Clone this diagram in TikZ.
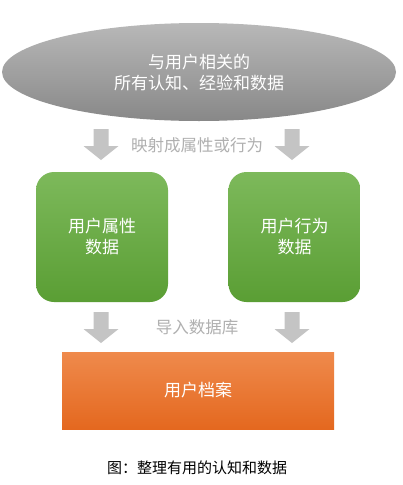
\documentclass[tikz,border=0pt]{standalone}
\usepackage{fontspec}
\setmainfont{Noto Sans CJK SC}
\usetikzlibrary{shapes.geometric}
\definecolor{ellTop}{HTML}{B8B8B8}
\definecolor{ellBot}{HTML}{888888}
\definecolor{grTop}{HTML}{7DB95B}
\definecolor{grBot}{HTML}{5A9E34}
\definecolor{orTop}{HTML}{EF8A4C}
\definecolor{orBot}{HTML}{E4681F}
\definecolor{arrGray}{HTML}{C4C4C4}
\definecolor{lblGray}{HTML}{B0B0B0}
\tikzset{
  whitetext/.style={text=white, font=\fontsize{17}{21}\selectfont, align=center},
  greenbox/.style={rounded corners=18pt, top color=grTop, bottom color=grBot, draw=none,
    minimum width=132pt, minimum height=130pt, whitetext},
  flowlabel/.style={text=lblGray, font=\fontsize{16.5}{20}\selectfont},
  downarrow/.style={fill=arrGray, draw=none}
}
\newcommand{\downarr}[2]{% center x, top y
  \fill[downarrow] (#1-7.5,#2) -- (#1+7.5,#2) -- (#1+7.5,#2+17) -- (#1+17.5,#2+17)
    -- (#1,#2+31) -- (#1-17.5,#2+17) -- (#1-7.5,#2+17) -- cycle;}
\begin{document}
\begin{tikzpicture}[x=1pt,y=-1pt]
\useasboundingbox (0,0) rectangle (403,485);
\fill[white] (0,0) rectangle (403,485);
% ellipse
\node[ellipse, minimum width=394pt, minimum height=98pt, top color=ellTop, bottom color=ellBot,
  draw=none, inner sep=0pt] (src) at (199,72) {};
\node[whitetext, inner sep=0pt] (srctxt) at (199,73)
  {与用户相关的\\所有认知、经验和数据};
% row 1 arrows + label
\downarr{101}{129}
\downarr{292}{129}
\node[flowlabel] (map) at (197,145) {映射成属性或行为};
% green boxes
\node[greenbox] (attr) at (102,237) {用户属性\\数据};
\node[greenbox] (beh) at (294.5,237) {用户行为\\数据};
% row 2 arrows + label
\downarr{101}{312}
\downarr{292}{312}
\node[flowlabel] (imp) at (197,327) {导入数据库};
% orange box
\node[top color=orTop, bottom color=orBot, draw=none, minimum width=272pt, minimum height=77pt,
  whitetext] (profile) at (198,390.5) {用户档案};
% caption
\node[text=black, font=\fontsize{15}{18}\selectfont] (cap) at (197,468) {图：整理有用的认知和数据};
\end{tikzpicture}
\end{document}
